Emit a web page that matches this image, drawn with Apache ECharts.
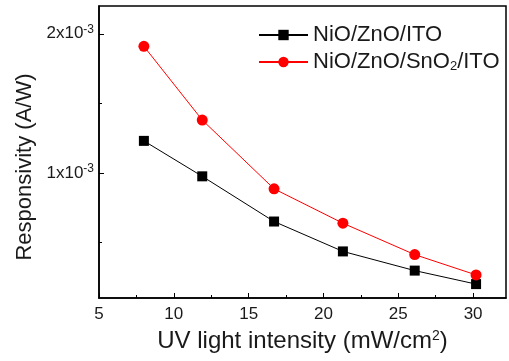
<!DOCTYPE html>
<html>
<head>
<meta charset="utf-8">
<script src="https://cdn.jsdelivr.net/npm/echarts@6/dist/echarts.min.js"></script>
<style>
  html, body { margin: 0; padding: 0; background: #fff; }
  #chart { width: 509px; height: 361px; }
</style>
</head>
<body>
<div id="chart"></div>
<script>
// UV light intensity (mW/cm^2)
const intensity = [8.0, 11.9, 16.7, 21.3, 26.1, 30.2];
// Responsivity (A/W)
const nioZnoIto = [1.23e-3, 0.975e-3, 0.65e-3, 0.435e-3, 0.297e-3, 0.20e-3];
const nioZnoSno2Ito = [1.91e-3, 1.38e-3, 0.885e-3, 0.638e-3, 0.412e-3, 0.266e-3];

const seriesNames = ['NiO/ZnO/ITO', 'NiO/ZnO/SnO2/ITO'];

const xMajorTicks = [5, 10, 15, 20, 25, 30];
const xMinorTicks = [7.5, 12.5, 17.5, 22.5, 27.5];
const yMajorTicks = [1e-3, 2e-3];
const yMinorTicks = [0.5e-3, 1.5e-3];

const FONT = '"Liberation Sans", Arial, sans-serif';
const INK = '#1a1a1a';

const pairs = (ys) => intensity.map((x, i) => [x, ys[i]]);

const chart = echarts.init(document.getElementById('chart'), null, { renderer: 'canvas' });

const xRange = { min: 5, max: 32.2 };
const yRange = { min: 0.1e-3, max: 2.2e-3 };

chart.setOption({
  animation: false,
  backgroundColor: '#fff',
  textStyle: { fontFamily: FONT, color: INK },
  grid: {
    left: 99, right: 3, top: 6, bottom: 63,
    show: true, borderColor: '#000', borderWidth: 1.5, backgroundColor: 'transparent'
  },
  legend: {
    left: 258, top: 24, orient: 'vertical', padding: 0,
    itemWidth: 49, itemHeight: 13, itemGap: 5,
    selectedMode: false,
    textStyle: {
      fontFamily: FONT, fontSize: 22, color: INK, lineHeight: 22,
      rich: { sub: { fontSize: 13, fontFamily: FONT, color: INK, verticalAlign: 'bottom', padding: [12, 0, 0, 0] } }
    },
    formatter: (name) => name.replace('SnO2', 'SnO{sub|2}')
  },
  xAxis: [
    {
      type: 'value', ...xRange, position: 'bottom',
      axisLine: { show: true, onZero: false, lineStyle: { color: '#000', width: 1.5 } },
      axisTick: { show: true, inside: true, length: 5, customValues: xMajorTicks, lineStyle: { color: '#000', width: 1 } },
      axisLabel: { customValues: xMajorTicks, fontFamily: FONT, fontSize: 17, color: INK, margin: 8 },
      splitLine: { show: false },
      name: 'UV light intensity (mW/cm{sup|2})',
      nameLocation: 'middle', nameGap: 31,
      nameTextStyle: {
        fontFamily: FONT, fontSize: 24, color: INK,
        rich: { sup: { fontSize: 14, fontFamily: FONT, color: INK, verticalAlign: 'top', padding: [0, 0, 11, 0] } }
      }
    },
    {
      type: 'value', ...xRange, position: 'bottom',
      axisLine: { show: false },
      axisTick: { show: true, inside: true, length: 3, customValues: xMinorTicks, lineStyle: { color: '#000', width: 1 } },
      axisLabel: { show: false },
      splitLine: { show: false }
    }
  ],
  yAxis: [
    {
      type: 'value', ...yRange, position: 'left',
      axisLine: { show: true, onZero: false, lineStyle: { color: '#000', width: 1.5 } },
      axisTick: { show: true, inside: true, length: 5, customValues: yMajorTicks, lineStyle: { color: '#000', width: 1 } },
      axisLabel: {
        customValues: yMajorTicks, margin: 5,
        formatter: (v) => '{m|' + Math.round(v * 1e3) + 'x10}{s|-3}',
        rich: {
          m: { fontFamily: FONT, fontSize: 17, color: INK },
          s: { fontFamily: FONT, fontSize: 12, color: INK, verticalAlign: 'top', padding: [0, 0, 9, 0] }
        }
      },
      splitLine: { show: false }
    },
    {
      type: 'value', ...yRange, position: 'left',
      axisLine: { show: false },
      axisTick: { show: true, inside: true, length: 3, customValues: yMinorTicks, lineStyle: { color: '#000', width: 1 } },
      axisLabel: { show: false },
      splitLine: { show: false }
    }
  ],
  graphic: [{
    type: 'text',
    x: 25, y: 167, rotation: Math.PI / 2,
    style: {
      text: 'Responsivity (A/W)', font: '22px ' + FONT, fill: INK,
      align: 'center', verticalAlign: 'middle'
    }
  }],
  series: [
    {
      name: seriesNames[0], type: 'line', data: pairs(nioZnoIto),
      symbol: 'rect', symbolSize: 10,
      lineStyle: { color: '#000', width: 1 },
      itemStyle: { color: '#000' }
    },
    {
      name: seriesNames[1], type: 'line', data: pairs(nioZnoSno2Ito),
      symbol: 'circle', symbolSize: 11,
      lineStyle: { color: '#ff0000', width: 1 },
      itemStyle: { color: '#ff0000' }
    }
  ]
});
</script>
</body>
</html>
